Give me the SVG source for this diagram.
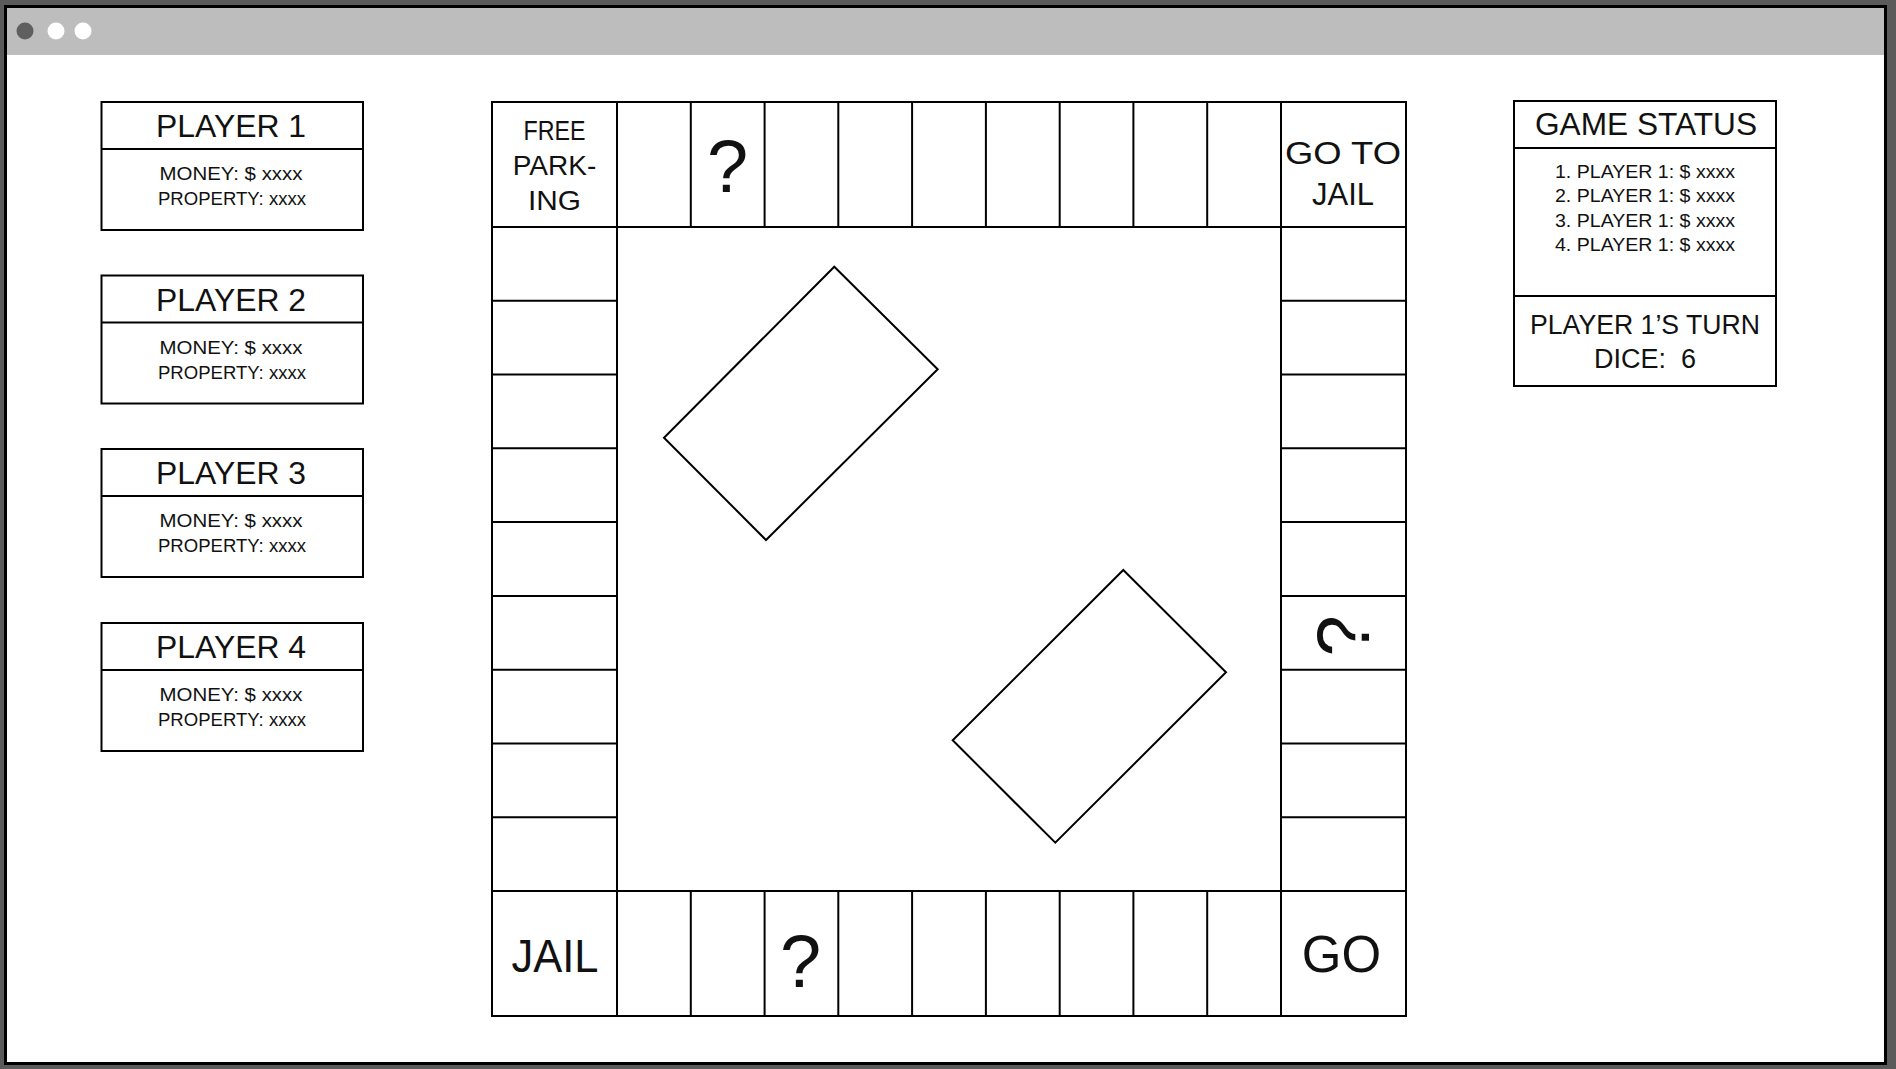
<svg xmlns="http://www.w3.org/2000/svg" width="1896" height="1069" viewBox="0 0 1896 1069">
<style>
  .box{fill:#fff;stroke:#000;stroke-width:2}
  .ln{stroke:#000;stroke-width:2;fill:none}
  text{font-family:"Liberation Sans",Arial,sans-serif;fill:#111;text-anchor:middle}
  .title{font-size:32px}
  .info{font-size:19px}
  .corner{font-size:28px}
  .q{font-size:74px}
  .pre{white-space:pre}
</style>
<rect x="0" y="0" width="1896" height="1069" fill="#5b5b5b"/>
<g id="window">
  <rect x="5.5" y="6.5" width="1880" height="1057" fill="#fff" stroke="#000" stroke-width="3"/>
  <rect x="7" y="8" width="1877" height="47" fill="#bdbdbd"/>
  <circle cx="25" cy="31" r="8.5" fill="#5f5f5f"/>
  <circle cx="56" cy="31" r="8.5" fill="#fff"/>
  <circle cx="83" cy="31" r="8.5" fill="#fff"/>
</g>

<g id="player1">
  <rect class="box" x="101.5" y="102" width="261.5" height="128"/>
  <line class="ln" x1="101.5" y1="149" x2="363" y2="149"/>
  <text class="title" x="231" y="137" textLength="150" lengthAdjust="spacingAndGlyphs">PLAYER 1</text>
  <text class="info" x="231" y="180" textLength="143" lengthAdjust="spacingAndGlyphs">MONEY: $ xxxx</text>
  <text class="info" x="232" y="205" textLength="148" lengthAdjust="spacingAndGlyphs">PROPERTY: xxxx</text>
</g>
<g id="player2">
  <rect class="box" x="101.5" y="275.5" width="261.5" height="128"/>
  <line class="ln" x1="101.5" y1="322.5" x2="363" y2="322.5"/>
  <text class="title" x="231" y="310.5" textLength="150" lengthAdjust="spacingAndGlyphs">PLAYER 2</text>
  <text class="info" x="231" y="353.5" textLength="143" lengthAdjust="spacingAndGlyphs">MONEY: $ xxxx</text>
  <text class="info" x="232" y="378.5" textLength="148" lengthAdjust="spacingAndGlyphs">PROPERTY: xxxx</text>
</g>
<g id="player3">
  <rect class="box" x="101.5" y="449" width="261.5" height="128"/>
  <line class="ln" x1="101.5" y1="496" x2="363" y2="496"/>
  <text class="title" x="231" y="484" textLength="150" lengthAdjust="spacingAndGlyphs">PLAYER 3</text>
  <text class="info" x="231" y="527" textLength="143" lengthAdjust="spacingAndGlyphs">MONEY: $ xxxx</text>
  <text class="info" x="232" y="552" textLength="148" lengthAdjust="spacingAndGlyphs">PROPERTY: xxxx</text>
</g>
<g id="player4">
  <rect class="box" x="101.5" y="623" width="261.5" height="128"/>
  <line class="ln" x1="101.5" y1="670" x2="363" y2="670"/>
  <text class="title" x="231" y="658" textLength="150" lengthAdjust="spacingAndGlyphs">PLAYER 4</text>
  <text class="info" x="231" y="701" textLength="143" lengthAdjust="spacingAndGlyphs">MONEY: $ xxxx</text>
  <text class="info" x="232" y="726" textLength="148" lengthAdjust="spacingAndGlyphs">PROPERTY: xxxx</text>
</g>

<g id="board">
  <rect class="box" x="492" y="102" width="914" height="914"/>
  <path class="ln" d="M492 227H1406 M492 891H1406 M617 102V1016 M1281 102V1016
    M690.8 102V227 M764.6 102V227 M838.3 102V227 M912.1 102V227 M985.9 102V227 M1059.7 102V227 M1133.4 102V227 M1207.2 102V227
    M690.8 891V1016 M764.6 891V1016 M838.3 891V1016 M912.1 891V1016 M985.9 891V1016 M1059.7 891V1016 M1133.4 891V1016 M1207.2 891V1016
    M492 300.8H617 M492 374.6H617 M492 448.3H617 M492 522.1H617 M492 595.9H617 M492 669.7H617 M492 743.4H617 M492 817.2H617
    M1281 300.8H1406 M1281 374.6H1406 M1281 448.3H1406 M1281 522.1H1406 M1281 595.9H1406 M1281 669.7H1406 M1281 743.4H1406 M1281 817.2H1406"/>
</g>
<g id="free-parking">
  <text class="corner" x="554.5" y="140" textLength="62" lengthAdjust="spacingAndGlyphs">FREE</text>
  <text class="corner" x="554.5" y="175">PARK-</text>
  <text class="corner" x="554.5" y="209.5" textLength="53" lengthAdjust="spacingAndGlyphs">ING</text>
</g>
<g id="go-to-jail">
  <text x="1343" y="163.5" font-size="31" textLength="116" lengthAdjust="spacingAndGlyphs">GO TO</text>
  <text x="1343" y="205" font-size="31">JAIL</text>
</g>
<g id="jail">
  <text x="555" y="971.5" font-size="46" textLength="87" lengthAdjust="spacingAndGlyphs">JAIL</text>
</g>
<g id="go">
  <text x="1341.5" y="971.5" font-size="51">GO</text>
</g>
<g id="chance-top">
  <text class="q" x="727.5" y="191.5">?</text>
</g>
<g id="chance-bottom">
  <text class="q" x="800.5" y="987">?</text>
</g>
<g id="chance-right">
  <text class="q" transform="translate(1342 636) rotate(-90)" x="0" y="26.5">?</text>
</g>
<g id="card1">
  <polygon class="box" points="834.3,266.7 937.7,369.3 766,540 664,437.7"/>
</g>
<g id="card2">
  <polygon class="box" points="1123.3,570 1226,672.3 1055.3,842.7 952.7,740.3"/>
</g>

<g id="game-status">
  <rect class="box" x="1514" y="101" width="262" height="285"/>
  <line class="ln" x1="1514" y1="148" x2="1776" y2="148"/>
  <line class="ln" x1="1514" y1="296" x2="1776" y2="296"/>
  <text x="1646" y="135" font-size="31" textLength="222" lengthAdjust="spacingAndGlyphs">GAME STATUS</text>
  <text class="info" x="1645" y="177.5" textLength="180" lengthAdjust="spacingAndGlyphs">1. PLAYER 1: $ xxxx</text>
  <text class="info" x="1645" y="202" textLength="180" lengthAdjust="spacingAndGlyphs">2. PLAYER 1: $ xxxx</text>
  <text class="info" x="1645" y="226.5" textLength="180" lengthAdjust="spacingAndGlyphs">3. PLAYER 1: $ xxxx</text>
  <text class="info" x="1645" y="251" textLength="180" lengthAdjust="spacingAndGlyphs">4. PLAYER 1: $ xxxx</text>
  <text x="1645" y="333.5" font-size="27" textLength="230" lengthAdjust="spacingAndGlyphs">PLAYER 1’S TURN</text>
  <text class="pre" x="1645" y="368" font-size="27">DICE:  6</text>
</g>
<g id="connectors"/>
</svg>
